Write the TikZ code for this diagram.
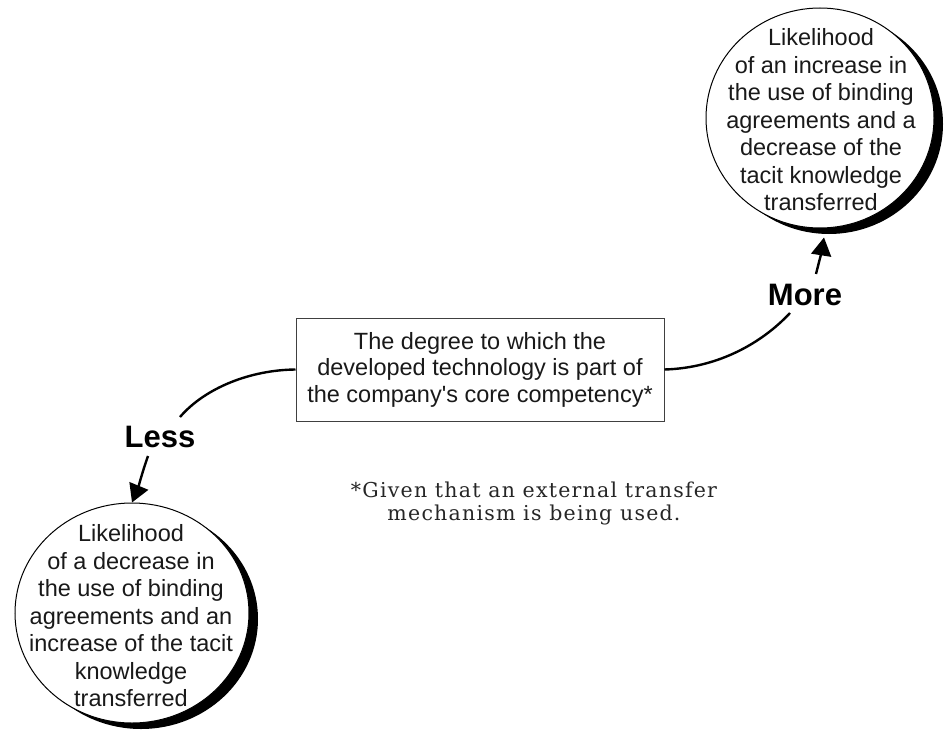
\documentclass[tikz,border=0pt]{standalone}
\usepackage{fontspec}
\setmainfont{Liberation Sans}
\newfontfamily\notefont[LetterSpace=6]{DejaVu Serif}
\usetikzlibrary{shapes.geometric,shadows,arrows.meta}

\begin{document}
\begin{tikzpicture}[x=1pt,y=-1pt,
  bubble/.style={ellipse, draw=black, line width=1pt, fill=white, inner sep=0pt,
    drop shadow={shadow xshift=9pt, shadow yshift=-6pt, fill=black, opacity=1}},
  bubbletext/.style={align=center, inner sep=0pt, text=black!90,
    font=\fontsize{23.5pt}{27.5pt}\selectfont},
  corebox/.style={draw=black!75, line width=1pt, fill=white,
    minimum width=368pt, minimum height=103pt, inner sep=0pt,
    align=center, text=black!90, font=\fontsize{23.5pt}{26.5pt}\selectfont},
  dirlabel/.style={font=\bfseries\fontsize{31pt}{36pt}\selectfont, inner sep=0pt},
  link/.style={line width=2.4pt},
  arr/.style={line width=2.4pt, -{Triangle[length=18pt,width=20pt]}},
  notetext/.style={align=center, inner sep=0pt, text=black!85,
    font=\notefont\fontsize{20.5pt}{23pt}\selectfont},
]
\useasboundingbox (0,0) rectangle (945,733);

% outcome bubbles
\node[bubble, minimum width=228pt, minimum height=220pt] (morec) at (820,118) {};
\node[bubbletext] (moretxt) at (821,120)
  {Likelihood\\of an increase in\\the use of binding\\agreements and a\\decrease of the\\tacit knowledge\\transferred};

\node[bubble, minimum width=234pt, minimum height=220pt] (lessc) at (132,613) {};
\node[bubbletext] (lesstxt) at (131,616)
  {Likelihood\\of a decrease in\\the use of binding\\agreements and an\\increase of the tacit\\knowledge\\transferred};

% central factor
\node[corebox] (core) at (480,369.5)
  {The degree to which the\\developed technology is part of\\the company\textquotesingle s core competency*};

% direction labels
\node[dirlabel] (lblmore) at (805,295) {More};
\node[dirlabel] (lblless) at (160,437) {Less};

% footnote
\node[notetext] (note) at (534,503)
  {*Given that an external transfer\\mechanism is being used.};

% connectors
\draw[link] (core.west) .. controls (250,370) and (205,388) .. ([xshift=20pt,yshift=20pt]lblless.center);
\draw[arr] ([xshift=-12pt,yshift=-19pt]lblless.center) .. controls (143,470) and (138,488) .. (lessc.north);

\draw[link] (core.east) .. controls (718,368) and (762,343) .. ([xshift=-15pt,yshift=-18pt]lblmore.center);
\draw[arr] ([xshift=11pt,yshift=21pt]lblmore.center) .. controls (819,262) and (822,250) .. ([xshift=4pt,yshift=-9pt]morec.south);
\end{tikzpicture}
\end{document}
